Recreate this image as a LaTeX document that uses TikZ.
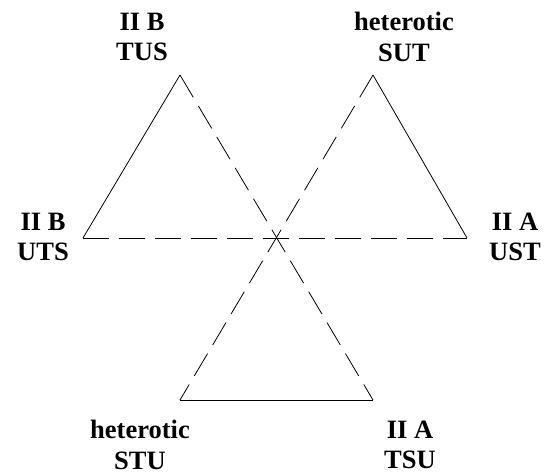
\documentclass[tikz,border=0pt]{standalone}
\usepackage{fontspec}
\setmainfont{Liberation Serif}
\begin{document}
\begin{tikzpicture}[x=1pt,y=1pt,
  lbl/.style={font=\bfseries\fontsize{26.5}{30.5}\selectfont, align=center, inner sep=0pt},
  solidedge/.style={line width=0.8pt},
  dashedge/.style={line width=0.8pt, dash pattern=on 26pt off 10pt}]
\useasboundingbox (0,0) rectangle (545,474);
\coordinate (tl) at (180,399);
\coordinate (tr) at (373,399);
\coordinate (ml) at (83,236);
\coordinate (mr) at (467,236);
\coordinate (bl) at (180,74);
\coordinate (br) at (373,74);
\coordinate (c) at (275,236);
\draw[solidedge] (tl) -- (ml);
\draw[solidedge] (tr) -- (mr);
\draw[solidedge] (bl) -- (br);
\draw[dashedge] (ml) -- (mr);
\draw[dashedge] (tl) -- (br);
\draw[dashedge] (tr) -- (bl);
\node[lbl] (n1) at (142,437) {II B\\TUS};
\node[lbl] (n2) at (404,437) {heterotic\\SUT};
\node[lbl] (n3) at (43,237) {II B\\UTS};
\node[lbl] (n4) at (515,237) {II A\\UST};
\node[lbl] (n5) at (140,29) {heterotic\\STU};
\node[lbl] (n6) at (410,29) {II A\\TSU};
\end{tikzpicture}
\end{document}
